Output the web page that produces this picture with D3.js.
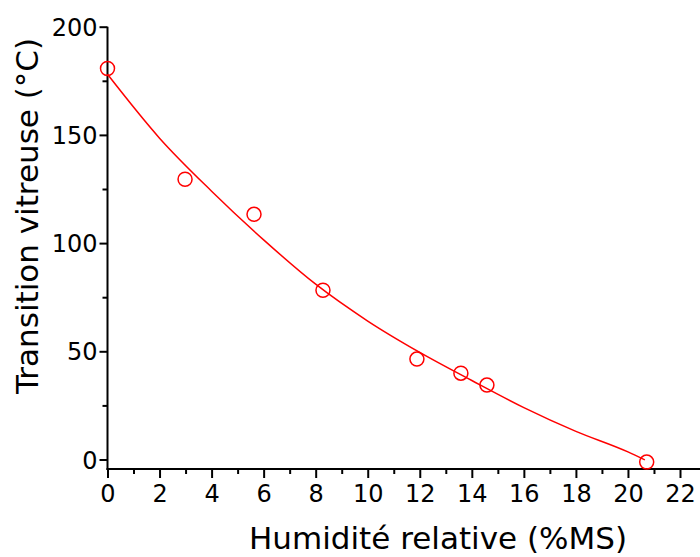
<!DOCTYPE html>
<html>
<head>
<meta charset="utf-8">
<script src="https://cdn.jsdelivr.net/npm/d3@7"></script>
<style>
  body { margin: 0; background: #fff; }
  svg { display: block; font-family: "DejaVu Sans", Verdana, sans-serif; }
</style>
</head>
<body>
<svg width="700" height="557"></svg>
<script>
// measured points
const humidite = [0, 2.98, 5.63, 8.28, 11.89, 13.58, 14.58, 20.72];
const tg = [180.7, 129.5, 113.3, 78.2, 46.4, 39.9, 34.4, -1.2];

// fitted curve
const fitX = [0, 2, 4, 6, 8, 10, 12, 14, 16, 18, 20, 20.65];
const fitY = [178, 148.5, 124, 101.5, 81, 64, 49.5, 36.5, 24, 13, 3.5, -0.2];

const xTicks = [0, 2, 4, 6, 8, 10, 12, 14, 16, 18, 20, 22];
const xMinor = [1, 3, 5, 7, 9, 11, 13, 15, 17, 19, 21];
const yTicks = [0, 50, 100, 150, 200];
const yMinor = [25, 75, 125, 175];

const svg = d3.select("svg");
const x = d3.scaleLinear().domain([0, 22]).range([107.5, 680]);
const y = d3.scaleLinear().domain([0, 200]).range([459.5, 26.7]);
const axisY = 469;

// x axis
const gx = svg.append("g").attr("transform", "translate(0," + axisY + ")");
gx.call(d3.axisBottom(x).tickValues(xTicks).tickSize(9).tickPadding(5).tickSizeOuter(0));
gx.append("g").call(d3.axisBottom(x).tickValues(xMinor).tickSize(5).tickFormat(""))
  .select(".domain").remove();
gx.select(".domain").remove();
gx.append("line").attr("x1", 106.5).attr("x2", 700).attr("stroke", "#000").attr("stroke-width", 2);

// y axis
const gy = svg.append("g").attr("transform", "translate(107.5,0)");
gy.call(d3.axisLeft(y).tickValues(yTicks).tickSize(8).tickPadding(2).tickSizeOuter(0));
gy.append("g").call(d3.axisLeft(y).tickValues(yMinor).tickSize(5).tickFormat(""))
  .select(".domain").remove();
gy.select(".domain").remove();
gy.append("line").attr("y1", y(200)).attr("y2", axisY + 1).attr("stroke", "#000").attr("stroke-width", 2);

svg.selectAll(".tick line").attr("stroke", "#000").attr("stroke-width", 2);
svg.selectAll(".tick text").attr("fill", "#000").style("font-size", "24px")
  .style("font-family", "'DejaVu Sans', Verdana, sans-serif");
gx.selectAll(".tick text").attr("dy", "0.8em");
gy.selectAll(".tick text").attr("dy", "0.36em");

// fitted curve
const line = d3.line()
  .x((d, i) => x(fitX[i]))
  .y((d, i) => y(fitY[i]))
  .curve(d3.curveMonotoneX);
svg.append("path")
  .attr("d", line(fitX))
  .attr("fill", "none")
  .attr("stroke", "#ff0000")
  .attr("stroke-width", 1.5);

// points
svg.append("g").selectAll("circle")
  .data(humidite)
  .enter()
  .append("circle")
  .attr("cx", (d) => x(d))
  .attr("cy", (d, i) => y(tg[i]))
  .attr("r", 7)
  .attr("fill", "none")
  .attr("stroke", "#ff0000")
  .attr("stroke-width", 1.5);

// titles
svg.append("text")
  .attr("x", 438).attr("y", 549)
  .attr("text-anchor", "middle")
  .style("font-size", "31px")
  .text("Humidité relative (%MS)");

svg.append("text")
  .attr("transform", "translate(38,216) rotate(-90)")
  .attr("text-anchor", "middle")
  .style("font-size", "31px")
  .text("Transition vitreuse (°C)");
</script>
</body>
</html>
